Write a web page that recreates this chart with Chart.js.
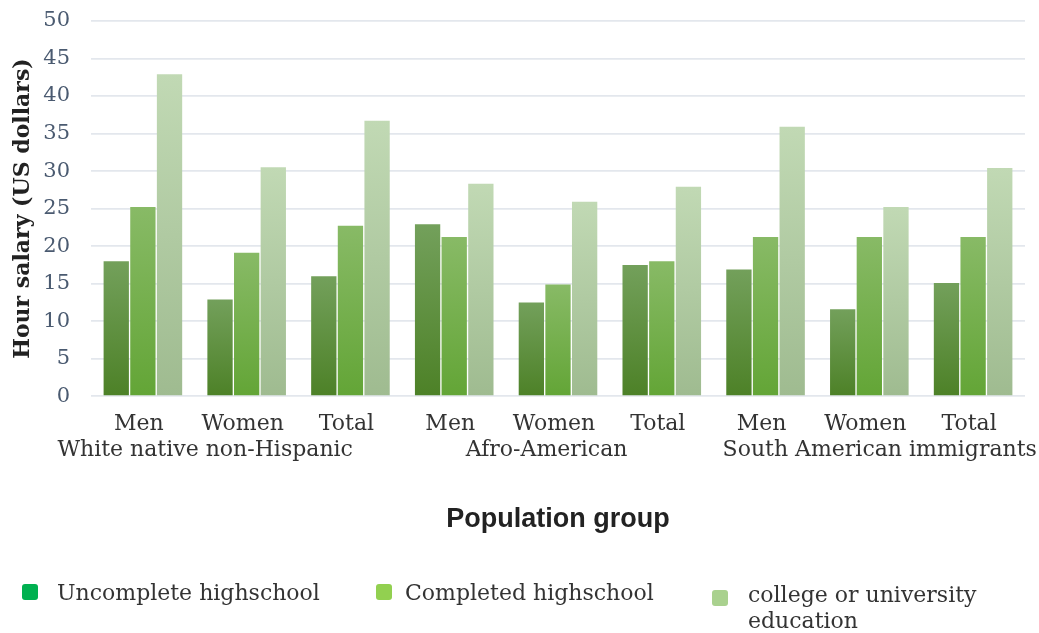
<!DOCTYPE html>
<html>
<head>
<meta charset="utf-8">
<script src="https://cdn.jsdelivr.net/npm/chart.js@4.4.1/dist/chart.umd.min.js"></script>
<style>
  html, body { margin: 0; padding: 0; background: #fff; }
  #wrap { position: relative; width: 1039px; height: 633px; }
  #legend { position: absolute; left: 0; top: 0; width: 1039px; height: 633px; pointer-events: none;
            font-family: "DejaVu Serif", serif; font-size: 22px; color: #333; }
  .item { position: absolute; display: flex; align-items: flex-start; }
  .box { width: 16px; height: 16px; border-radius: 3px; flex: none; }
  .lab { line-height: 26px; }
</style>
</head>
<body>
<div id="wrap">
  <canvas id="c" width="1039" height="633"></canvas>
  <div id="legend"></div>
</div>
<script>
const categories = ["Men", "Women", "Total", "Men", "Women", "Total", "Men", "Women", "Total"];
const groups = ["White native non-Hispanic", "Afro-American", "South American immigrants"];
const seriesNames = ["Uncomplete highschool", "Completed highschool", "college or university education"];
const uncompleteHS = [18.0, 12.9, 16.0, 22.9, 12.5, 17.5, 16.9, 11.6, 15.1];
const completedHS = [25.2, 19.1, 22.7, 21.2, 14.9, 18.0, 21.2, 21.2, 21.2];
const college = [42.9, 30.5, 36.7, 28.3, 25.9, 27.9, 35.9, 25.2, 30.4];
const yTicks = [0, 5, 10, 15, 20, 25, 30, 35, 40, 45, 50];

const legendColors = ["#00b050", "#92d050", "#a9d18e"];
const barGrad = [["#73a05b", "#4d8127"], ["#88ba66", "#63a536"], ["#c1d9b4", "#9fbb90"]];

function gradFor(i) {
  return function(ctx) {
    const chart = ctx.chart;
    const ys = chart.scales && chart.scales.y;
    if (!chart.chartArea || !ys || ctx.raw === undefined) return barGrad[i][1];
    const top = ys.getPixelForValue(ctx.raw);
    const base = ys.getPixelForValue(0);
    const g = chart.ctx.createLinearGradient(0, top, 0, base);
    g.addColorStop(0, barGrad[i][0]);
    g.addColorStop(1, barGrad[i][1]);
    return g;
  };
}

const serif = '"DejaVu Serif", serif';
// group label anchors, in category-index units on the x scale
const groupAnchor = [0.6, 3.89, 7.1];

const groupLabelPlugin = {
  id: 'groupLabels',
  afterDraw(chart) {
    const xs = chart.scales.x;
    const c = chart.ctx;
    c.save();
    c.font = '22px ' + serif;
    c.fillStyle = '#333';
    c.textAlign = 'center';
    c.textBaseline = 'middle';
    groups.forEach((g, i) => {
      c.fillText(g, xs.getPixelForValue(groupAnchor[i]), chart.chartArea.bottom + 54);
    });
    c.restore();
  }
};

new Chart(document.getElementById('c'), {
  type: 'bar',
  data: {
    labels: categories,
    datasets: [
      { label: seriesNames[0], data: uncompleteHS, backgroundColor: gradFor(0) },
      { label: seriesNames[1], data: completedHS, backgroundColor: gradFor(1) },
      { label: seriesNames[2], data: college, backgroundColor: gradFor(2) }
    ]
  },
  plugins: [groupLabelPlugin],
  options: {
    responsive: false,
    animation: false,
    devicePixelRatio: 1,
    layout: { padding: { left: 7, right: 14, top: 21, bottom: 97 } },
    datasets: { bar: { categoryPercentage: 0.77, barPercentage: 0.95 } },
    plugins: { legend: { display: false }, tooltip: { enabled: false } },
    scales: {
      x: {
        type: 'category',
        position: 'bottom',
        grid: { display: false, drawTicks: false },
        border: { display: false },
        ticks: { color: '#333', font: { family: serif, size: 22 }, maxRotation: 0, autoSkip: false,
                 padding: 15, labelOffset: -4 },
        title: { display: true, text: 'Population group', color: '#222',
                 font: { family: '"Liberation Sans", Arial, sans-serif', size: 27, weight: 'bold' },
                 padding: { top: 51, bottom: 0 } }
      },
      y: {
        min: 0, max: 50,
        afterBuildTicks: (s) => { s.ticks = yTicks.map(v => ({ value: v })); },
        afterFit: (s) => { s.width = 84; s.paddingTop = 0; s.paddingBottom = 0; },
        grid: { color: '#e3e7ed', lineWidth: 1.8, drawTicks: false },
        border: { display: false },
        ticks: { color: '#4a5a70', font: { family: serif, size: 21 }, padding: 21 },
        title: { display: true, text: 'Hour salary (US dollars)', color: '#222',
                 font: { family: serif, size: 22, weight: 'bold' }, padding: { top: 3, bottom: 4 } }
      }
    }
  }
});

const legendPos = [
  { x: 22, y: 584, gap: 19, w: 320, dy: -4 },
  { x: 376, y: 584, gap: 13, w: 320, dy: -4 },
  { x: 712, y: 590, gap: 20, w: 260, dy: -8 }
];
const lg = document.getElementById('legend');
seriesNames.forEach((name, i) => {
  const it = document.createElement('div');
  it.className = 'item';
  it.style.left = legendPos[i].x + 'px';
  it.style.top = legendPos[i].y + 'px';
  const b = document.createElement('div');
  b.className = 'box';
  b.style.background = legendColors[i];
  const t = document.createElement('div');
  t.className = 'lab';
  t.style.marginTop = legendPos[i].dy + 'px';
  t.style.marginLeft = legendPos[i].gap + 'px';
  t.style.width = legendPos[i].w + 'px';
  t.textContent = name;
  it.appendChild(b); it.appendChild(t);
  lg.appendChild(it);
});
</script>
</body>
</html>
